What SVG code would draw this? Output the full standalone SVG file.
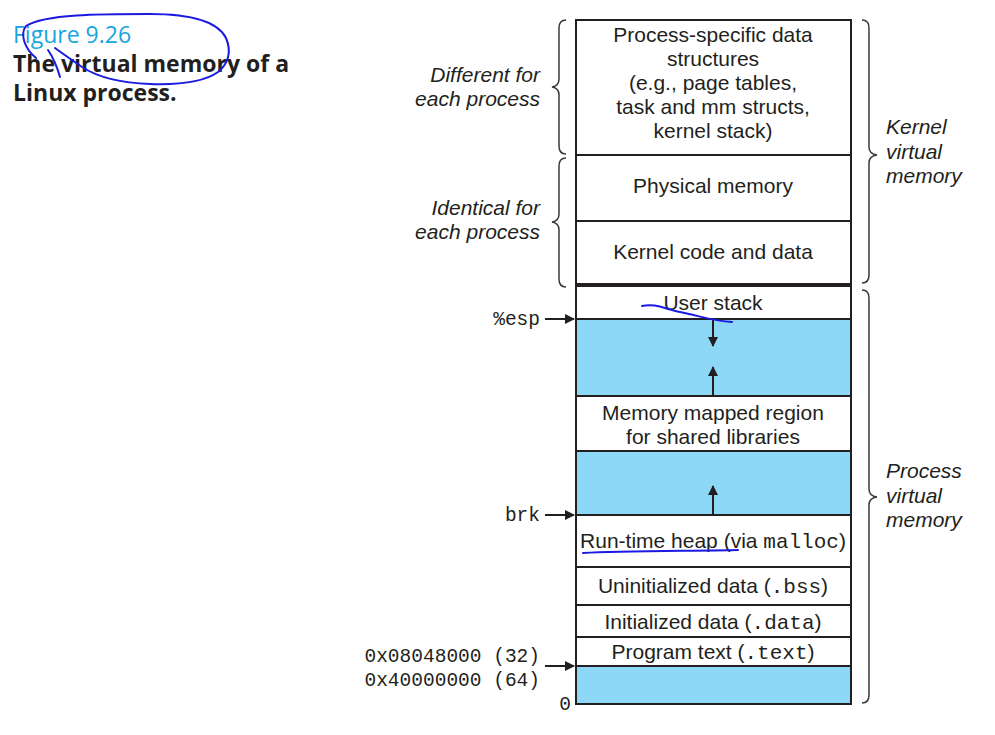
<svg xmlns="http://www.w3.org/2000/svg" width="995" height="735" viewBox="0 0 995 735">
<style>
.t{font-family:"Liberation Sans",Arial,sans-serif;font-size:21px;fill:#231f20;text-anchor:middle}
.m{font-family:"Liberation Mono","Courier New",monospace}
.i{font-family:"Liberation Sans",Arial,sans-serif;font-size:21px;fill:#231f20;font-style:italic}
.box{fill:#fff;stroke:#231f20;stroke-width:2}
.fill{fill:#8ed8f7;stroke:#231f20;stroke-width:2}
.br{fill:none;stroke:#3a3a3a;stroke-width:1.5}
.ar{stroke:#231f20;stroke-width:2;fill:none}
.ink{fill:none;stroke:#1a1ae0;stroke-width:2;stroke-linecap:round;stroke-linejoin:round}
.ttl{font-family:"Open Sans","Liberation Sans",sans-serif;font-size:23px}
.lab{font-family:"Liberation Mono","Courier New",monospace;font-size:19.5px;fill:#231f20;text-anchor:end}
</style>
<defs>
<marker id="ah" markerWidth="10" markerHeight="10" refX="9" refY="5" orient="auto" markerUnits="userSpaceOnUse">
<path d="M0,0 L10,5 L0,10 Z" fill="#231f20"/>
</marker>
</defs>
<rect width="995" height="735" fill="#fff"/>

<g id="title">
<text x="13" y="43" class="ttl" fill="#18a4de">Figure 9.26</text>
<text x="13" y="72" class="ttl" font-weight="bold" fill="#231f20">The virtual memory of a</text>
<text x="13" y="101" class="ttl" font-weight="bold" fill="#231f20">Linux process.</text>
</g>

<g id="kernel-process-specific">
<rect class="box" x="576" y="20" width="275" height="135"/>
<text class="t" x="713" y="42">Process-specific data</text>
<text class="t" x="713" y="66">structures</text>
<text class="t" x="713" y="90">(e.g., page tables,</text>
<text class="t" x="713" y="114">task and mm structs,</text>
<text class="t" x="713" y="138">kernel stack)</text>
</g>
<g id="physical-memory">
<rect class="box" x="576" y="155" width="275" height="66"/>
<text class="t" x="713" y="193">Physical memory</text>
</g>
<g id="kernel-code">
<rect class="box" x="576" y="221" width="275" height="64"/>
<text class="t" x="713" y="259">Kernel code and data</text>
</g>
<g id="user-stack">
<rect class="box" x="576" y="286" width="275" height="33"/>
<text class="t" x="713" y="310">User stack</text>
</g>
<g id="gap1">
<rect class="fill" x="576" y="319" width="275" height="77"/>
</g>
<g id="mmap">
<rect class="box" x="576" y="396" width="275" height="55"/>
<text class="t" x="713" y="420">Memory mapped region</text>
<text class="t" x="713" y="444">for shared libraries</text>
</g>
<g id="gap2">
<rect class="fill" x="576" y="451" width="275" height="64"/>
</g>
<g id="heap">
<rect class="box" x="576" y="515" width="275" height="52"/>
<text class="t" x="713" y="548">Run-time heap (via <tspan class="m">malloc</tspan>)</text>
</g>
<g id="bss">
<rect class="box" x="576" y="567" width="275" height="38"/>
<text class="t" x="713" y="593">Uninitialized data (<tspan class="m">.bss</tspan>)</text>
</g>
<g id="data">
<rect class="box" x="576" y="605" width="275" height="32"/>
<text class="t" x="713" y="629">Initialized data (<tspan class="m">.data</tspan>)</text>
</g>
<g id="text-seg">
<rect class="box" x="576" y="637" width="275" height="29"/>
<text class="t" x="713" y="659">Program text (<tspan class="m">.text</tspan>)</text>
</g>
<g id="gap3">
<rect class="fill" x="576" y="666" width="275" height="38"/>
</g>
<g id="divider">
<line x1="576" y1="285" x2="851" y2="285" stroke="#231f20" stroke-width="4"/>
</g>

<g id="connectors">
<line class="ar" x1="713" y1="319" x2="713" y2="346" marker-end="url(#ah)"/>
<line class="ar" x1="713" y1="396" x2="713" y2="367" marker-end="url(#ah)"/>
<line class="ar" x1="713" y1="515" x2="713" y2="486" marker-end="url(#ah)"/>
<line class="ar" x1="545" y1="319" x2="574" y2="319" marker-end="url(#ah)"/>
<line class="ar" x1="545" y1="515" x2="574" y2="515" marker-end="url(#ah)"/>
<line class="ar" x1="545" y1="666" x2="574" y2="666" marker-end="url(#ah)"/>
</g>

<g id="left-labels">
<text x="540" y="325" class="lab">%esp</text>
<text x="540" y="521" class="lab">brk</text>
<text x="540" y="662" class="lab" xml:space="preserve">0x08048000 (32)</text>
<text x="540" y="686" class="lab" xml:space="preserve">0x40000000 (64)</text>
<text x="571" y="710" class="lab">0</text>
</g>

<g id="brace-different">
<path class="br" d="M566,20 Q559,20 559,28 L559,79 Q559,86 552,87 Q559,88 559,95 L559,146 Q559,154 566,154"/>
<text class="i" x="540" y="82" text-anchor="end">Different for</text>
<text class="i" x="540" y="106" text-anchor="end">each process</text>
</g>
<g id="brace-identical">
<path class="br" d="M566,158 Q559,158 559,166 L559,214 Q559,221 552,222 Q559,223 559,230 L559,279 Q559,287 566,287"/>
<text class="i" x="540" y="215" text-anchor="end">Identical for</text>
<text class="i" x="540" y="239" text-anchor="end">each process</text>
</g>
<g id="brace-kernel">
<path class="br" d="M862,20 Q869,20 869,28 L869,147 Q869,154 877,155 Q869,156 869,163 L869,275 Q869,283 862,283"/>
<text class="i" x="886" y="134">Kernel</text>
<text class="i" x="886" y="159">virtual</text>
<text class="i" x="886" y="183">memory</text>
</g>
<g id="brace-process">
<path class="br" d="M862,290 Q869,290 869,298 L869,489 Q869,496 877,497 Q869,498 869,505 L869,695 Q869,703 862,703"/>
<text class="i" x="886" y="478">Process</text>
<text class="i" x="886" y="503">virtual</text>
<text class="i" x="886" y="527">memory</text>
</g>

<g id="annotations">
<path class="ink" d="M36,58 C24,48 20,34 26,26 C45,14 100,14 150,14 C192,14 218,22 226,38 C232,52 228,64 218,72 C204,82 180,85 150,84 C118,83 96,76 82,67 C72,60 63,54 55,48"/>
<path class="ink" d="M48,50 C55,60 58,70 60,77"/>
<path class="ink" d="M642,306 C655,303 665,309 680,312 C700,316 712,321 732,322"/>
<path class="ink" d="M583,553 C620,551 690,551 738,550"/>
</g>
</svg>
